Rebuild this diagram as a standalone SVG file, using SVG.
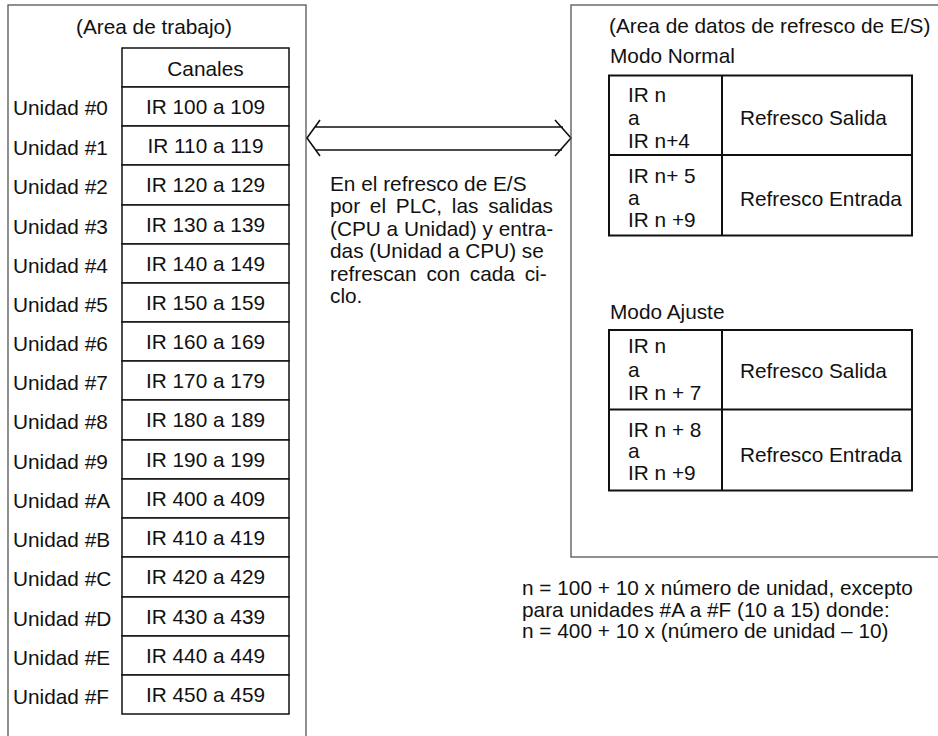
<svg xmlns="http://www.w3.org/2000/svg" width="938" height="736" viewBox="0 0 938 736">
  <style>
    text { font-family: "Liberation Sans", Arial, Helvetica, sans-serif; font-size: 20.8px; fill: #111; }
    .mid { text-anchor: middle; }
    .panel { fill: none; stroke: #555; stroke-width: 1.3; }
    .cell { fill: #fff; stroke: #111; stroke-width: 1.5; }
    .grid { fill: none; stroke: #111; stroke-width: 2; }
    .arrow { fill: none; stroke: #111; stroke-width: 1.6; stroke-linejoin: miter; }
    .wide { word-spacing: 4px; }
  </style>

  <!-- Work area panel -->
  <g id="area-trabajo">
    <rect class="panel" x="8" y="5" width="298" height="745"/>
    <text class="mid" x="154" y="34">(Area de trabajo)</text>
  </g>

  <!-- Channel table header -->
  <g id="canales">
    <rect class="cell" x="122" y="48" width="167" height="39"/>
    <text class="mid" x="205.5" y="76">Canales</text>
  </g>

  <!-- One row per unit: label, cell, channel range -->
  <g id="unidad-0"><text x="13" y="115">Unidad #0</text><rect class="cell" x="122" y="87" width="167" height="39"/><text class="mid" x="205.5" y="114">IR 100 a 109</text></g>
  <g id="unidad-1"><text x="13" y="155">Unidad #1</text><rect class="cell" x="122" y="126" width="167" height="39"/><text class="mid" x="205.5" y="153">IR 110 a 119</text></g>
  <g id="unidad-2"><text x="13" y="194">Unidad #2</text><rect class="cell" x="122" y="165" width="167" height="40"/><text class="mid" x="205.5" y="192">IR 120 a 129</text></g>
  <g id="unidad-3"><text x="13" y="234">Unidad #3</text><rect class="cell" x="122" y="205" width="167" height="39"/><text class="mid" x="205.5" y="232">IR 130 a 139</text></g>
  <g id="unidad-4"><text x="13" y="273">Unidad #4</text><rect class="cell" x="122" y="244" width="167" height="39"/><text class="mid" x="205.5" y="271">IR 140 a 149</text></g>
  <g id="unidad-5"><text x="13" y="312">Unidad #5</text><rect class="cell" x="122" y="283" width="167" height="39"/><text class="mid" x="205.5" y="310">IR 150 a 159</text></g>
  <g id="unidad-6"><text x="13" y="351">Unidad #6</text><rect class="cell" x="122" y="322" width="167" height="39"/><text class="mid" x="205.5" y="349">IR 160 a 169</text></g>
  <g id="unidad-7"><text x="13" y="390">Unidad #7</text><rect class="cell" x="122" y="361" width="167" height="39"/><text class="mid" x="205.5" y="388">IR 170 a 179</text></g>
  <g id="unidad-8"><text x="13" y="429">Unidad #8</text><rect class="cell" x="122" y="400" width="167" height="40"/><text class="mid" x="205.5" y="427">IR 180 a 189</text></g>
  <g id="unidad-9"><text x="13" y="469">Unidad #9</text><rect class="cell" x="122" y="440" width="167" height="39"/><text class="mid" x="205.5" y="467">IR 190 a 199</text></g>
  <g id="unidad-A"><text x="13" y="508">Unidad #A</text><rect class="cell" x="122" y="479" width="167" height="39"/><text class="mid" x="205.5" y="506">IR 400 a 409</text></g>
  <g id="unidad-B"><text x="13" y="547">Unidad #B</text><rect class="cell" x="122" y="518" width="167" height="39"/><text class="mid" x="205.5" y="545">IR 410 a 419</text></g>
  <g id="unidad-C"><text x="13" y="586">Unidad #C</text><rect class="cell" x="122" y="557" width="167" height="40"/><text class="mid" x="205.5" y="584">IR 420 a 429</text></g>
  <g id="unidad-D"><text x="13" y="626">Unidad #D</text><rect class="cell" x="122" y="597" width="167" height="39"/><text class="mid" x="205.5" y="624">IR 430 a 439</text></g>
  <g id="unidad-E"><text x="13" y="665">Unidad #E</text><rect class="cell" x="122" y="636" width="167" height="39"/><text class="mid" x="205.5" y="663">IR 440 a 449</text></g>
  <g id="unidad-F"><text x="13" y="704">Unidad #F</text><rect class="cell" x="122" y="675" width="167" height="39"/><text class="mid" x="205.5" y="702">IR 450 a 459</text></g>

  <!-- Refresh exchange between the two areas -->
  <g id="connectors">
    <path class="arrow" d="M320,120 L307,138 L320,156 M555,120 L571,138 L555,156 M315,127 H563 M316,150 H562"/>
  </g>

  <!-- Explanatory note -->
  <g id="nota-refresco">
    <text x="330" y="191">En el refresco de E/S</text>
    <text class="wide" x="330" y="213.4">por el PLC, las salidas</text>
    <text x="330" y="235.8">(CPU a Unidad) y entra-</text>
    <text x="330" y="258.2">das (Unidad a CPU) se</text>
    <text class="wide" x="330" y="280.6">refrescan con cada ci-</text>
    <text x="330" y="303">clo.</text>
  </g>

  <!-- I/O refresh data area panel -->
  <g id="area-refresco">
    <rect class="panel" x="571" y="5" width="380" height="552"/>
    <text x="609" y="33">(Area de datos de refresco de E/S)</text>
  </g>

  <!-- Normal mode table -->
  <g id="modo-normal">
    <text x="610" y="63">Modo Normal</text>
    <rect class="grid" x="609" y="75.5" width="303" height="160"/>
    <path class="grid" d="M609,155 H912 M722,75.5 V235.5"/>
    <text x="628" y="101.5">IR n</text>
    <text x="628" y="124.5">a</text>
    <text x="628" y="148">IR n+4</text>
    <text x="740" y="124.5">Refresco Salida</text>
    <text x="628" y="183">IR n+ 5</text>
    <text x="628" y="205">a</text>
    <text x="628" y="226.5">IR n +9</text>
    <text x="740" y="206">Refresco Entrada</text>
  </g>

  <!-- Adjustment mode table -->
  <g id="modo-ajuste">
    <text x="610" y="319">Modo Ajuste</text>
    <rect class="grid" x="609" y="330" width="303" height="160.5"/>
    <path class="grid" d="M609,409.5 H912 M722,330 V490.5"/>
    <text x="628" y="352.5">IR n</text>
    <text x="628" y="376.5">a</text>
    <text x="628" y="400">IR n + 7</text>
    <text x="740" y="378">Refresco Salida</text>
    <text x="628" y="436.5">IR n + 8</text>
    <text x="628" y="458">a</text>
    <text x="628" y="480">IR n +9</text>
    <text x="740" y="461.5">Refresco Entrada</text>
  </g>

  <!-- Address formula -->
  <g id="formula">
    <text x="522" y="595">n = 100 + 10 x número de unidad, excepto</text>
    <text x="522" y="616.5">para unidades #A a #F (10 a 15) donde:</text>
    <text x="522" y="638">n = 400 + 10 x (número de unidad – 10)</text>
  </g>
</svg>
